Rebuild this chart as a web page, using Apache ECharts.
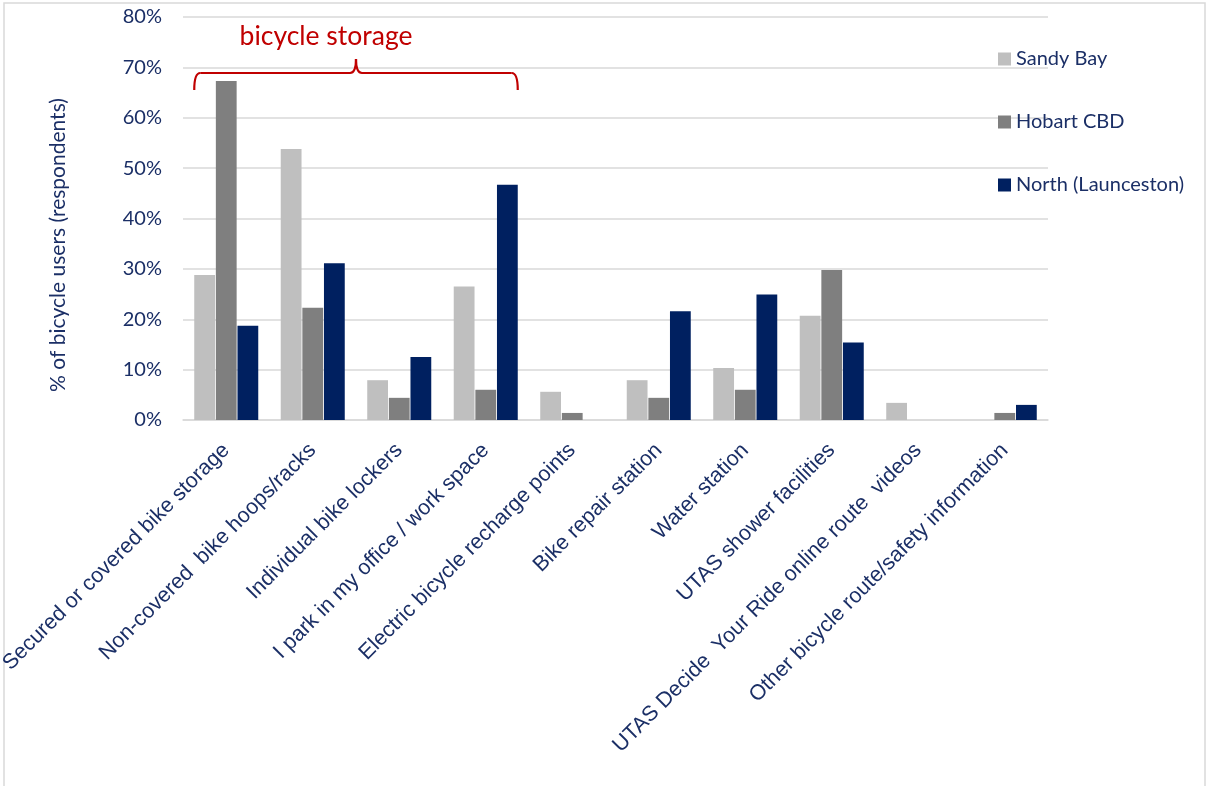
<!DOCTYPE html>
<html>
<head>
<meta charset="utf-8">
<script src="https://cdn.jsdelivr.net/npm/echarts@6/dist/echarts.min.js"></script>
<style>
  html, body { margin: 0; padding: 0; background: #ffffff; }
  #chart { width: 1208px; height: 786px; }
</style>
</head>
<body>
<div id="chart"></div>
<script>
// Facilities used by bicycle commuters, by campus (% of respondents)
const categories = [
  'Secured or covered bike storage',
  'Non-covered  bike hoops/racks',
  'Individual bike lockers',
  'I park in my office / work space',
  'Electric bicycle recharge points',
  'Bike repair station',
  'Water station',
  'UTAS shower facilities',
  'UTAS Decide  Your Ride online route  videos',
  'Other bicycle route/safety information'
];
const seriesNames = ['Sandy Bay', 'Hobart CBD', 'North (Launceston)'];
const sandyBay  = [28.8, 53.8, 7.9, 26.5, 5.6, 7.9, 10.3, 20.7, 3.4, 0];
const hobartCBD = [67.3, 22.3, 4.4, 6.0, 1.4, 4.4, 6.0, 29.8, 0, 1.4];
const north     = [18.7, 31.1, 12.5, 46.7, 0, 21.6, 24.9, 15.4, 0, 3.0];
const yTicks = [0, 10, 20, 30, 40, 50, 60, 70, 80];
const storageGroup = [0, 3]; // first and last category under the "bicycle storage" brace

const navy = '#1b2f66';
const colors = ['#bfbfbf', '#7f7f7f', '#002060'];
const sans = 'Lato, "Open Sans", sans-serif';

const chart = echarts.init(document.getElementById('chart'));

chart.setOption({
  animation: false,
  backgroundColor: '#ffffff',
  color: colors,
  grid: {
    left: 183, right: 160, top: 17, bottom: 366,
    containLabel: false,
    outerBoundsMode: 'none'
  },
  legend: {
    orient: 'vertical',
    left: 993,
    top: 44,
    itemWidth: 13,
    itemHeight: 13,
    itemGap: 43,
    icon: 'rect',
    data: seriesNames,
    textStyle: { color: navy, fontSize: 20, fontFamily: sans, lineHeight: 20 }
  },
  xAxis: {
    type: 'category',
    data: categories,
    axisLine: { show: true, lineStyle: { color: '#d9d9d9', width: 1.5 } },
    axisTick: { show: false },
    axisLabel: {
      interval: 0,
      rotate: 45,
      margin: 27,
      padding: [10, 0, 0, 0],
      color: navy,
      fontSize: 21.5,
      fontFamily: '"Liberation Sans", Arial, sans-serif'
    }
  },
  yAxis: {
    type: 'value',
    min: yTicks[0],
    max: yTicks[yTicks.length - 1],
    interval: yTicks[1] - yTicks[0],
    axisLine: { show: false },
    axisTick: { show: false },
    splitLine: { lineStyle: { color: '#d9d9d9', width: 1.5 } },
    axisLabel: {
      formatter: '{value}%',
      margin: 21,
      color: navy,
      fontSize: 20,
      fontFamily: sans
    }
  },
  series: [
    { name: seriesNames[0], type: 'bar', data: sandyBay, barGap: '4%', barCategoryGap: '26%' },
    { name: seriesNames[1], type: 'bar', data: hobartCBD, barGap: '4%', barCategoryGap: '26%' },
    { name: seriesNames[2], type: 'bar', data: north, barGap: '4%', barCategoryGap: '26%' }
  ]
});

// Brace spanning the storage-related categories, placed from the axis scale
const x0 = chart.convertToPixel({ xAxisIndex: 0 }, storageGroup[0]);
const x3 = chart.convertToPixel({ xAxisIndex: 0 }, storageGroup[1]);
const band = chart.convertToPixel({ xAxisIndex: 0 }, 1) - x0;
const half = band * 0.37;
const L = x0 - half;
const R = x3 + half;
const C = (L + R) / 2;
const yLine = 73, yEnd = 90, yPeak = 59;
const braceStyle = { fill: 'none', stroke: '#c00000', lineWidth: 2.2 };

function curve(x1, y1, cx, cy, x2, y2) {
  return {
    type: 'bezierCurve', silent: true,
    shape: { x1: x1, y1: y1, cpx1: cx, cpy1: cy, x2: x2, y2: y2 },
    style: braceStyle
  };
}
function seg(x1, y1, x2, y2) {
  return {
    type: 'line', silent: true,
    shape: { x1: x1, y1: y1, x2: x2, y2: y2 },
    style: braceStyle
  };
}

chart.setOption({
  graphic: [
    {
      type: 'rect',
      silent: true,
      shape: { x: 4, y: 3, width: 1201, height: 800 },
      style: { fill: 'none', stroke: '#d9d9d9', lineWidth: 1.5 },
      z: 0
    },
    {
      type: 'text',
      silent: true,
      x: 58,
      y: 245,
      rotation: Math.PI / 2,
      style: {
        text: '% of bicycle users (respondents)',
        fill: navy,
        font: '21px ' + sans,
        align: 'center',
        verticalAlign: 'middle'
      }
    },
    curve(L, yEnd, L, yLine, L + 6, yLine),
    seg(L + 6, yLine, C - 6, yLine),
    curve(C - 6, yLine, C, yLine, C, yPeak),
    curve(C, yPeak, C, yLine, C + 6, yLine),
    seg(C + 6, yLine, R - 6, yLine),
    curve(R - 6, yLine, R, yLine, R, yEnd),
    {
      type: 'text',
      silent: true,
      x: C - 30,
      y: 36,
      style: {
        text: 'bicycle storage',
        fill: '#c00000',
        font: '26.5px ' + sans,
        align: 'center',
        verticalAlign: 'middle'
      }
    }
  ]
});
</script>
</body>
</html>
